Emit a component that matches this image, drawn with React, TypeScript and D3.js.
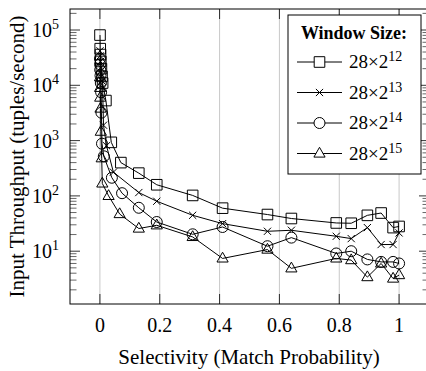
import * as d3 from "d3";

// square: 28x2^12
const xSq = [0.0003, 0.001, 0.002, 0.003, 0.005, 0.007, 0.009, 0.02, 0.038, 0.07, 0.13, 0.19, 0.31, 0.41, 0.56, 0.64, 0.79, 0.84, 0.894, 0.94, 0.98, 1.0];
const ySq = [81000, 46000, 36000, 27000, 20000, 14500, 11000, 5300, 930, 400, 258, 159, 102, 60, 46, 39, 32.4, 32, 44.5, 49, 26.7, 28];

// cross: 28x2^13
const xCr = [0.0003, 0.001, 0.002, 0.003, 0.005, 0.007, 0.009, 0.012, 0.022, 0.045, 0.13, 0.19, 0.31, 0.41, 0.56, 0.64, 0.79, 0.84, 0.894, 0.94, 0.98, 1.0];
const yCr = [42000, 34000, 27000, 21000, 16000, 12000, 9000, 1900, 810, 269, 115, 80, 44.6, 31.5, 22.9, 23.9, 18.6, 16.9, 26.7, 13.2, 13.2, 21.4];

// circle: 28x2^14
const xCi = [0.0002, 0.0005, 0.001, 0.002, 0.003, 0.004, 0.005, 0.007, 0.013, 0.04, 0.074, 0.13, 0.19, 0.31, 0.41, 0.56, 0.64, 0.79, 0.84, 0.894, 0.94, 0.98, 1.0];
const yCi = [30000, 24000, 19000, 15000, 11000, 7500, 3200, 880, 520, 213, 112, 61, 33.7, 20.2, 27.4, 12.3, 17.6, 9.1, 10, 7.1, 6.4, 6.4, 6.0];

// triangle: 28x2^15
const xTr = [0.0002, 0.0005, 0.001, 0.002, 0.003, 0.006, 0.008, 0.029, 0.066, 0.13, 0.19, 0.31, 0.41, 0.56, 0.64, 0.79, 0.84, 0.894, 0.94, 0.98, 1.0];
const yTr = [14000, 9000, 6000, 3800, 1450, 480, 168, 100, 47, 25.7, 29.4, 18.1, 7.4, 10.7, 4.9, 7.4, 6.9, 3.4, 6.0, 3.2, 3.7];

const exps = ["12", "13", "14", "15"];
const marks = ["square", "cross", "circle", "triangle"];
const xTicks = [0, 0.2, 0.4, 0.6, 0.8, 1];
const yTicks = [1e1, 1e2, 1e3, 1e4, 1e5];
const yTickExp = ["1", "2", "3", "4", "5"];

const FF = "Liberation Serif";
const L = 70, R = 429, T = 9, B = 304;

function markPath(kind: string) {
  if (kind === "square") return "M-5.3,-5.3H5.3V5.3H-5.3Z";
  if (kind === "cross") return "M-3.6,-3.6L3.6,3.6M-3.6,3.6L3.6,-3.6";
  if (kind === "circle") return d3.arc()({ innerRadius: 0, outerRadius: 5.5, startAngle: 0, endAngle: 2 * Math.PI } as any) as string;
  return "M0,-6.2L5.6,3.6H-5.6Z";
}

export default function App() {
  const x = d3.scaleLinear().domain([-0.1, 1.1]).range([L, R]);
  const y = d3.scaleLog().domain([Math.pow(10, 0.045), Math.pow(10, 5.38)]).range([B, T]);

  const series = [
    { xs: xSq, ys: ySq },
    { xs: xCr, ys: yCr },
    { xs: xCi, ys: yCi },
    { xs: xTr, ys: yTr },
  ];

  const line = d3.line<[number, number]>().x((d) => x(d[0])).y((d) => y(d[1]));

  const minor: number[] = [];
  for (let e = 0; e <= 5; e++) {
    for (let k = 2; k <= 9; k++) {
      const v = k * Math.pow(10, e);
      if (v > y.domain()[0] && v < y.domain()[1]) minor.push(v);
    }
  }

  const legY = [62, 92.5, 123, 153.5];

  return (
    <svg width={426} height={371} style={{ position: "absolute", left: 0, top: 0, background: "#fff", fontFamily: FF }}>
      <style>{`text, tspan { font-family: "Liberation Serif", "Times New Roman", serif; }`}</style>
      <defs>
        <clipPath id="plot">
          <rect x={L} y={T} width={R - L} height={B - T} />
        </clipPath>
      </defs>
      {xTicks.map((t) => (
        <line key={t} x1={x(t)} x2={x(t)} y1={T} y2={B} stroke="#c8c8c8" strokeWidth={1} />
      ))}
      {/* ticks */}
      {xTicks.map((t) => (
        <g key={"xt" + t} stroke="#000" strokeWidth={0.8}>
          <line x1={x(t)} x2={x(t)} y1={B} y2={B - 10} />
          <line x1={x(t)} x2={x(t)} y1={T} y2={T + 10} />
        </g>
      ))}
      {yTicks.map((t) => (
        <g key={"yt" + t} stroke="#000" strokeWidth={0.8}>
          <line x1={L} x2={L + 10} y1={y(t)} y2={y(t)} />
          <line x1={R} x2={R - 10} y1={y(t)} y2={y(t)} />
        </g>
      ))}
      {minor.map((t) => (
        <g key={"ym" + t} stroke="#000" strokeWidth={0.6}>
          <line x1={L} x2={L + 6.5} y1={y(t)} y2={y(t)} />
          <line x1={R} x2={R - 6.5} y1={y(t)} y2={y(t)} />
        </g>
      ))}
      <g clipPath="url(#plot)">
        {series.map((s, i) => {
          const pts = s.xs.map((v, j) => [v, s.ys[j]] as [number, number]);
          return (
            <g key={i}>
              <path d={line(pts) as string} fill="none" stroke="#000" strokeWidth={1} />
              {pts.map((p, j) => (
                <path key={j} d={markPath(marks[i])} transform={`translate(${x(p[0])},${y(p[1])})`} fill="none" stroke="#000" strokeWidth={1} />
              ))}
            </g>
          );
        })}
      </g>
      <rect x={L} y={T} width={R - L} height={B - T} fill="none" stroke="#000" strokeWidth={1} />
      {xTicks.map((t) => (
        <text key={"xl" + t} x={x(t)} y={B + 28} textAnchor="middle" fontSize={20} fontFamily={FF}>
          {String(t)}
        </text>
      ))}
      {yTicks.map((t, i) => (
        <text key={"yl" + t} x={59} y={y(t) + 7} textAnchor="end" fontSize={20} fontFamily={FF}>
          10<tspan dy={-8} fontSize={14}>{yTickExp[i]}</tspan>
        </text>
      ))}
      <text x={249} y={364} textAnchor="middle" fontSize={21} fontFamily={FF}>
        Selectivity (Match Probability)
      </text>
      <text transform={`translate(24,${(T + B) / 2}) rotate(-90)`} textAnchor="middle" fontSize={21} fontFamily={FF}>
        Input Throughput (tuples/second)
      </text>
      {/* legend */}
      <rect x={288} y={15} width={133} height={159} fill="#fff" stroke="#000" strokeWidth={1} />
      <text x={354} y={39} textAnchor="middle" fontSize={18} fontWeight="bold" fontFamily={FF}>
        Window Size:
      </text>
      {exps.map((e, i) => (
        <g key={e}>
          <line x1={297} x2={342} y1={legY[i]} y2={legY[i]} stroke="#000" strokeWidth={1} />
          <path d={markPath(marks[i])} transform={`translate(319.5,${legY[i]})`} fill="#fff" stroke="#000" strokeWidth={1} />
          <text x={349} y={legY[i] + 6} fontSize={19} fontFamily={FF}>
            28×2<tspan dy={-7} fontSize={14}>{e}</tspan>
          </text>
        </g>
      ))}
    </svg>
  );
}
